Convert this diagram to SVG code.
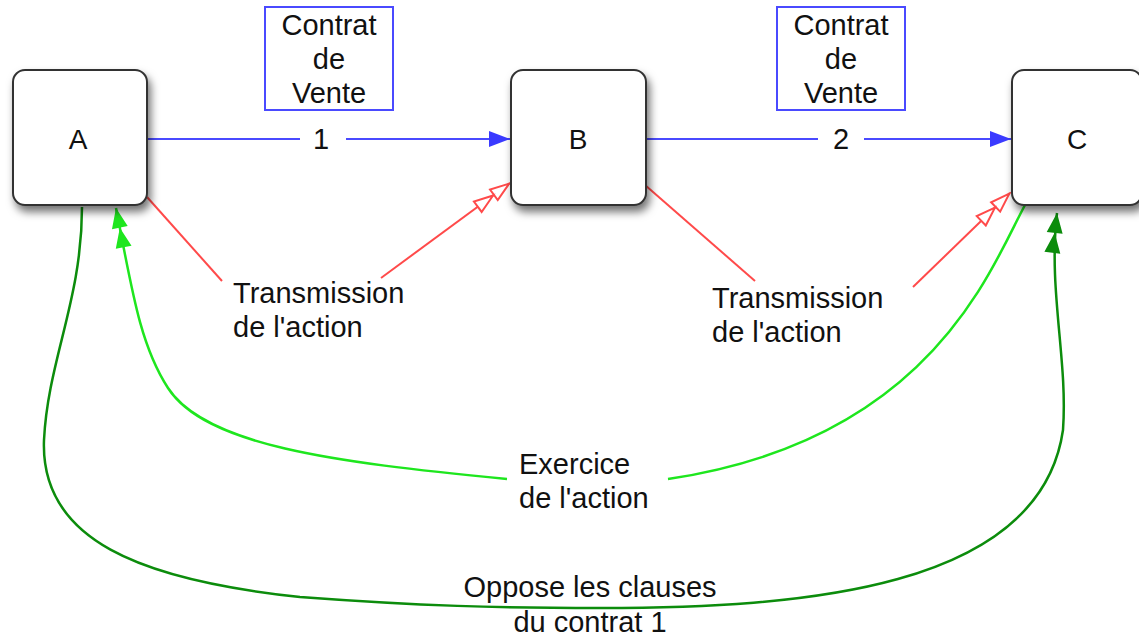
<svg xmlns="http://www.w3.org/2000/svg" width="1139" height="638" viewBox="0 0 1139 638">
<style>
  text { font-family: "Liberation Sans", Arial, sans-serif; font-size: 29px; fill: #111; }
  .node rect { fill: #fff; stroke: #333; stroke-width: 2; }
  .nlabel { text-anchor: middle; font-size: 28px; }
  .contrat rect { fill: #fff; stroke: #4a4aff; stroke-width: 2; }
  .contrat text { text-anchor: middle; }
  .blue { stroke: #4a4aff; stroke-width: 2; fill: none; }
  .red { stroke: #ff4a4a; stroke-width: 2; fill: none; }
  .lgreen { stroke: #1ee61e; stroke-width: 2.5; fill: none; }
  .dgreen { stroke: #0c8c0c; stroke-width: 2.5; fill: none; }
  .mid { text-anchor: middle; }
</style>
<defs>
  <filter id="shadow" x="-20%" y="-20%" width="150%" height="150%">
    <feDropShadow dx="3" dy="6" stdDeviation="4" flood-color="#000" flood-opacity="0.55"/>
  </filter>
  <marker id="mBlue" markerUnits="userSpaceOnUse" markerWidth="1" markerHeight="1" orient="auto" overflow="visible" refX="0" refY="0">
    <path d="M0,0 L-21,-8 L-21,8 Z" fill="#3a3aff"/>
  </marker>
  <marker id="mRed" markerUnits="userSpaceOnUse" markerWidth="1" markerHeight="1" orient="auto" overflow="visible" refX="0" refY="0">
    <path d="M-1,0 L-20,-6.5 L-20,6.5 Z M-21,0 L-40,-6.5 L-40,6.5 Z" fill="#fff" stroke="#ff4a4a" stroke-width="2" stroke-linejoin="miter"/>
  </marker>
  <marker id="mLGreen" markerUnits="userSpaceOnUse" markerWidth="1" markerHeight="1" orient="auto" overflow="visible" refX="0" refY="0">
    <path d="M0,0 L-20,-8 L-20,8 Z M-20,0 L-40,-8 L-40,8 Z" fill="#1ee61e"/>
  </marker>
  <marker id="mDGreen" markerUnits="userSpaceOnUse" markerWidth="1" markerHeight="1" orient="auto" overflow="visible" refX="0" refY="0">
    <path d="M0,0 L-20,-8 L-20,8 Z M-20,0 L-40,-8 L-40,8 Z" fill="#0c8c0c"/>
  </marker>
</defs>
<rect width="1139" height="638" fill="#fff"/>

<g id="connectors">
  <!-- Contrat 1: A -> B -->
  <path class="blue" d="M147,139 L300,139 M346,139 L510,139" marker-end="url(#mBlue)"/>
  <text class="mid" x="321" y="149">1</text>
  <!-- Contrat 2: B -> C -->
  <path class="blue" d="M646,139 L818,139 M864,139 L1011,139" marker-end="url(#mBlue)"/>
  <text class="mid" x="841" y="149">2</text>

  <!-- Transmission de l'action A -> B -->
  <path class="red" d="M147,197 L222,281"/>
  <path class="red" d="M381,278 L510,183" marker-end="url(#mRed)"/>
  <text x="233" y="303">Transmission</text>
  <text x="233" y="337">de l'action</text>

  <!-- Transmission de l'action B -> C -->
  <path class="red" d="M645,185 L755,281"/>
  <path class="red" d="M913,287 L1010,193" marker-end="url(#mRed)"/>
  <text x="712" y="308">Transmission</text>
  <text x="712" y="342">de l'action</text>

  <!-- Exercice de l'action C -> A -->
  <path class="lgreen" d="M1025,205 C990,270 930,440 668,479"/>
  <path class="lgreen" d="M507,479 C330,462 205,445 168,388 C140,345 132,290 116,208" marker-end="url(#mLGreen)"/>
  <text x="519" y="474">Exercice</text>
  <text x="519" y="508">de l'action</text>

  <!-- Oppose les clauses du contrat 1 A -> C -->
  <path class="dgreen" d="M82,207 C82,300 48,360 44,440 C40,540 140,580 300,597 C420,606 500,608 600,608 C800,608 1040,590 1063,430 C1068,360 1048,290 1057,213" marker-end="url(#mDGreen)"/>
  <text class="mid" x="590" y="597">Oppose les clauses</text>
  <text class="mid" x="590" y="632">du contrat 1</text>
</g>

<g id="contrat1" class="contrat">
  <rect x="265" y="7" width="128" height="103"/>
  <text x="329" y="35">Contrat</text>
  <text x="329" y="69">de</text>
  <text x="329" y="103">Vente</text>
</g>
<g id="contrat2" class="contrat">
  <rect x="777" y="7" width="128" height="103"/>
  <text x="841" y="35">Contrat</text>
  <text x="841" y="69">de</text>
  <text x="841" y="103">Vente</text>
</g>

<g id="nodeA" class="node">
  <rect x="13" y="70" width="134" height="135" rx="12" filter="url(#shadow)"/>
  <text class="nlabel" x="78" y="149">A</text>
</g>
<g id="nodeB" class="node">
  <rect x="511" y="70" width="135" height="135" rx="12" filter="url(#shadow)"/>
  <text class="nlabel" x="578" y="149">B</text>
</g>
<g id="nodeC" class="node">
  <rect x="1012" y="70" width="130" height="135" rx="12" filter="url(#shadow)"/>
  <text class="nlabel" x="1077" y="149">C</text>
</g>
</svg>
